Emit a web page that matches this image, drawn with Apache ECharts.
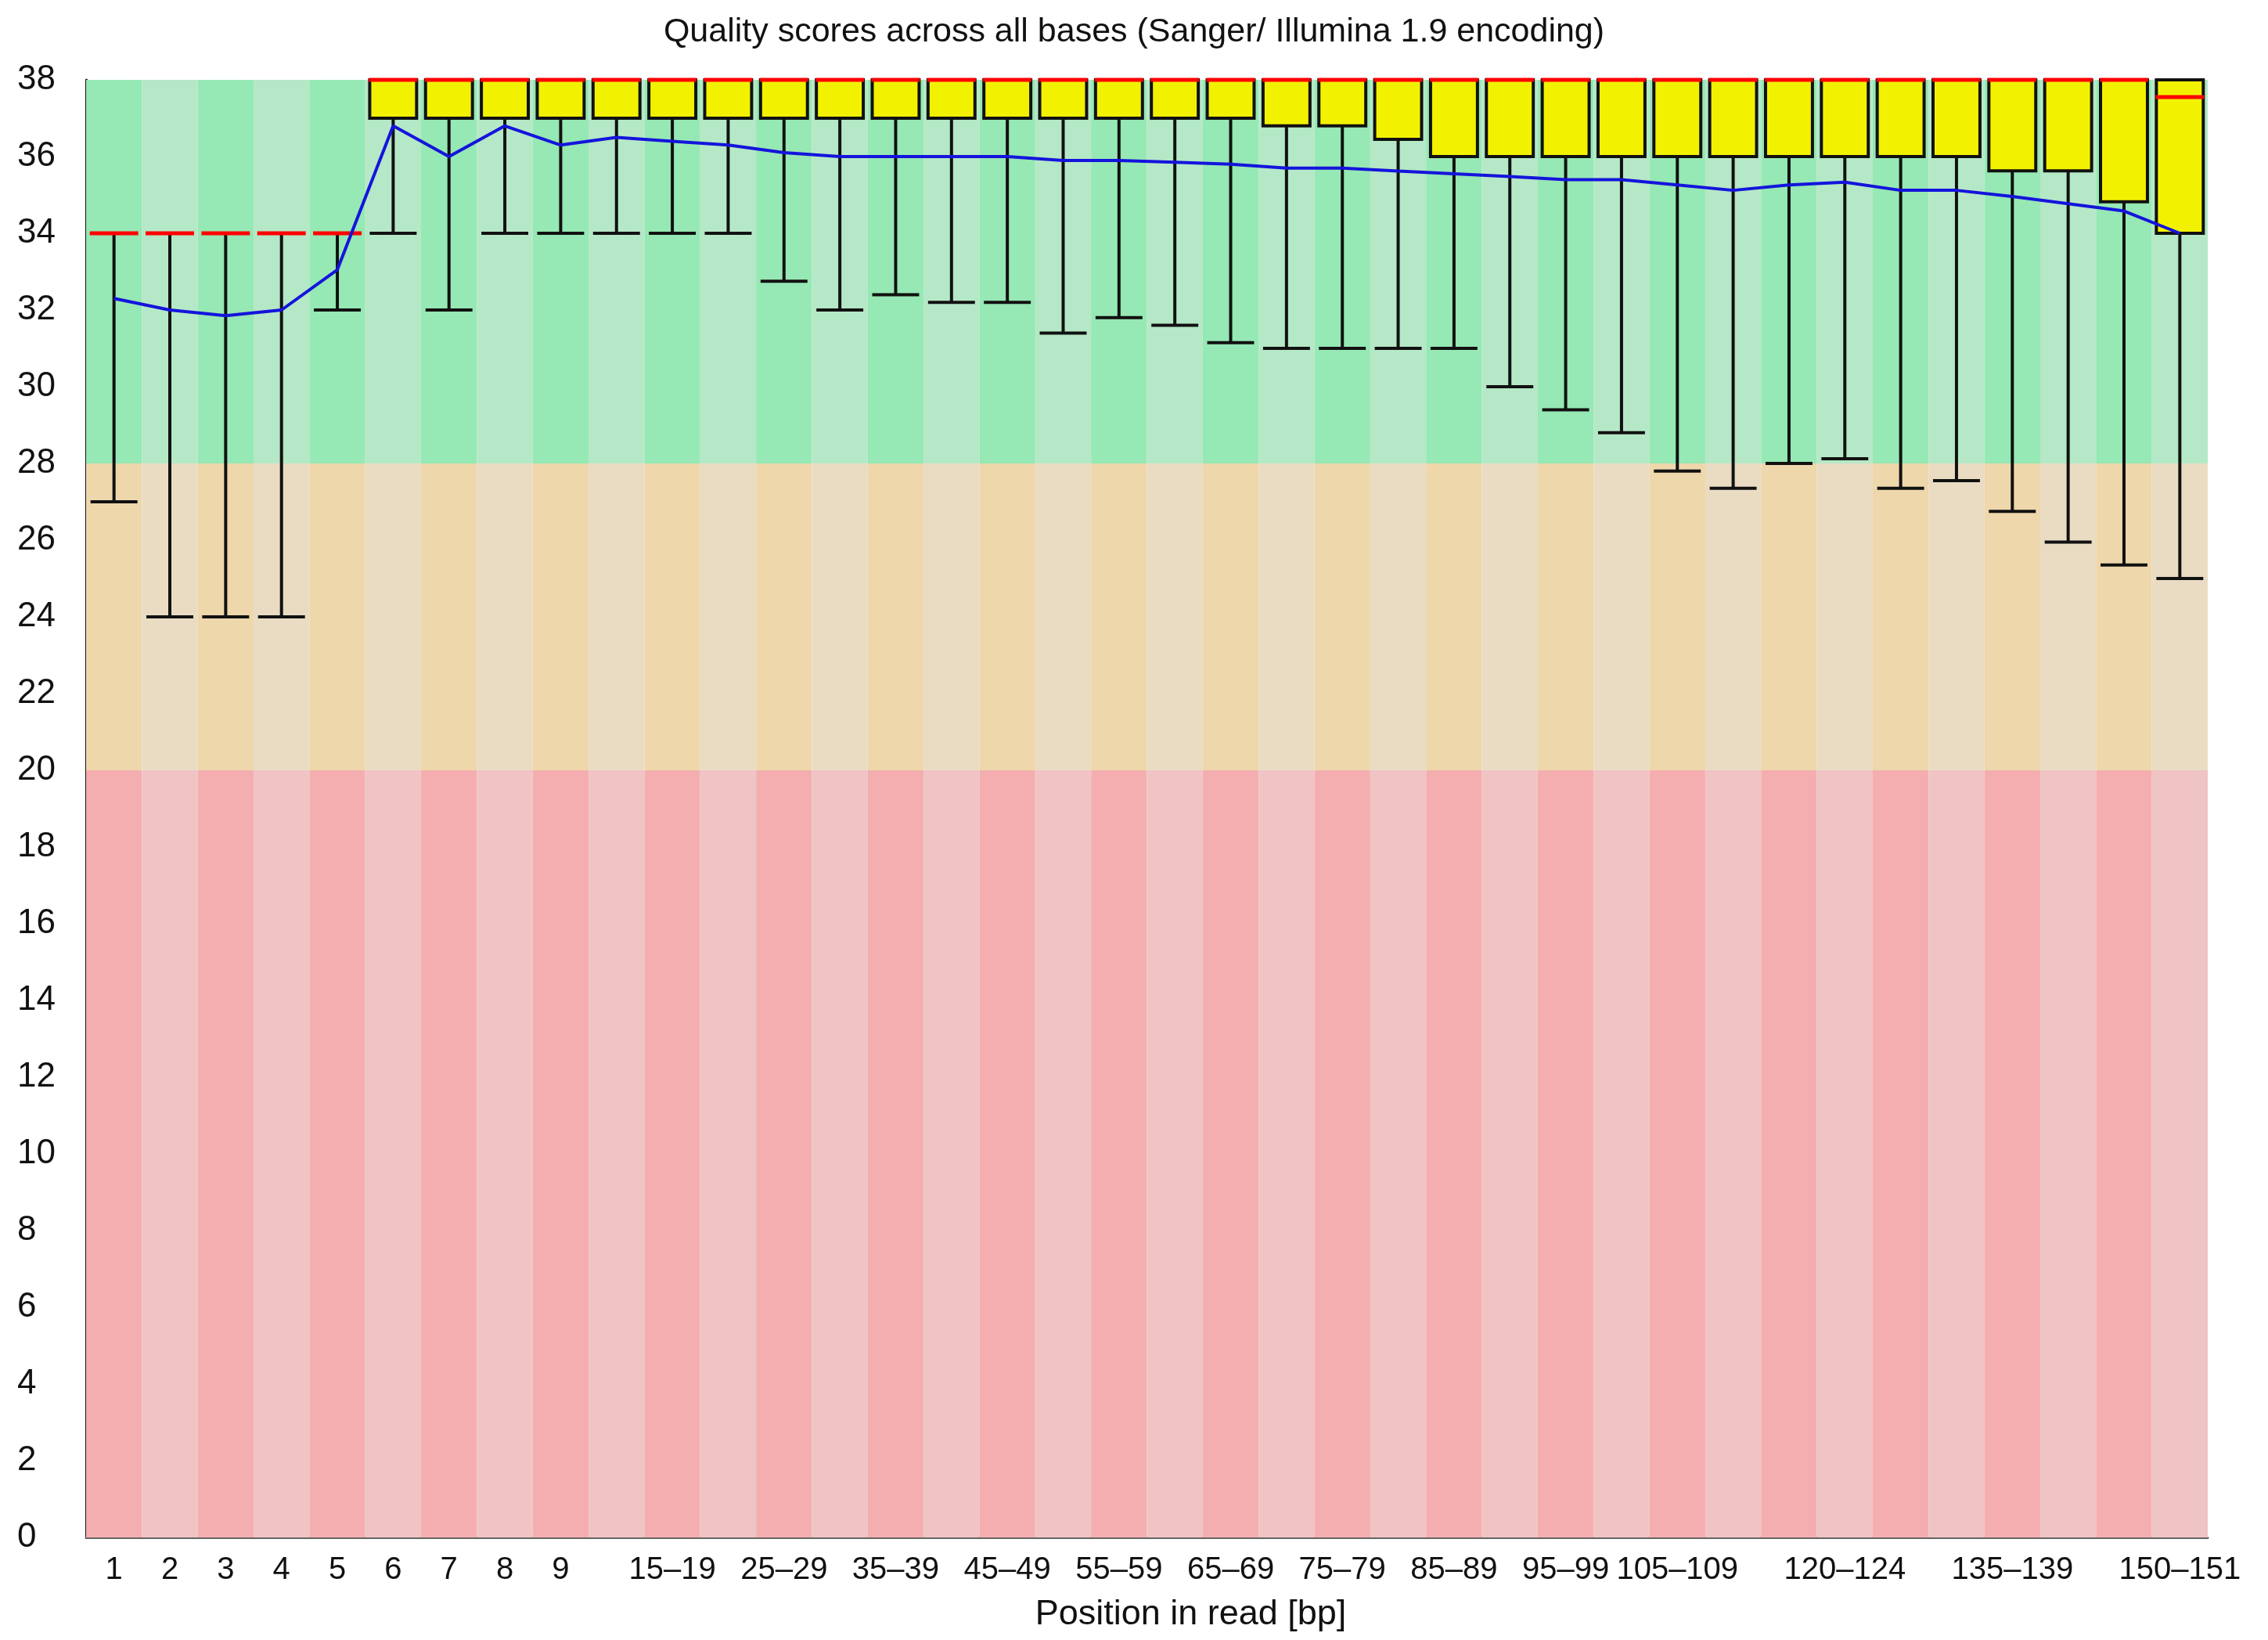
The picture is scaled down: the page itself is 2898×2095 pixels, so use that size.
<!DOCTYPE html>
<html>
<head>
    <meta charset="UTF-8">
    <title>Quality scores across all bases</title>
    <script src="https://cdn.jsdelivr.net/npm/echarts@6.0.0/dist/echarts.min.js"></script>
    <style>
        html, body { margin: 0; padding: 0; background: #ffffff; }
        #main { width: 2898px; height: 2095px; }
    </style>
</head>
<body>
    <div id="main"></div>
    <script type="text/javascript">
        // position bins along the read
        const categories = ['1', '2', '3', '4', '5', '6', '7', '8', '9',
            '10–14', '15–19', '20–24', '25–29', '30–34', '35–39', '40–44', '45–49',
            '50–54', '55–59', '60–64', '65–69', '70–74', '75–79', '80–84', '85–89',
            '90–94', '95–99', '100–104', '105–109', '110–114', '115–119', '120–124',
            '125–129', '130–134', '135–139', '140–144', '145–149', '150–151'];

        // 10th percentile (lower whisker)
        const whiskerLow = [27.0, 24.0, 24.0, 24.0, 32.0, 34.0, 32.0, 34.0, 34.0,
            34.0, 34.0, 34.0, 32.75, 32.0, 32.4, 32.2, 32.2,
            31.4, 31.8, 31.6, 31.15, 31.0, 31.0, 31.0, 31.0,
            30.0, 29.4, 28.8, 27.8, 27.35, 28.0, 28.12,
            27.35, 27.55, 26.75, 25.95, 25.35, 25.0];
        // lower quartile
        const boxLow = [34, 34, 34, 34, 34, 37, 37, 37, 37,
            37, 37, 37, 37, 37, 37, 37, 37,
            37, 37, 37, 37, 36.8, 36.8, 36.45, 36.0,
            36, 36, 36, 36, 36, 36, 36,
            36, 36, 35.63, 35.63, 34.82, 34.0];
        const median = [34, 34, 34, 34, 34, 38, 38, 38, 38,
            38, 38, 38, 38, 38, 38, 38, 38,
            38, 38, 38, 38, 38, 38, 38, 38,
            38, 38, 38, 38, 38, 38, 38,
            38, 38, 38, 38, 38, 37.55];
        // upper quartile
        const boxHigh = [34, 34, 34, 34, 34, 38, 38, 38, 38,
            38, 38, 38, 38, 38, 38, 38, 38,
            38, 38, 38, 38, 38, 38, 38, 38,
            38, 38, 38, 38, 38, 38, 38,
            38, 38, 38, 38, 38, 38];
        // 90th percentile (upper whisker)
        const whiskerHigh = [34, 34, 34, 34, 34, 38, 38, 38, 38,
            38, 38, 38, 38, 38, 38, 38, 38,
            38, 38, 38, 38, 38, 38, 38, 38,
            38, 38, 38, 38, 38, 38, 38,
            38, 38, 38, 38, 38, 38];
        const meanQuality = [32.3, 32.0, 31.85, 32.0, 33.05, 36.8, 36.0, 36.8, 36.3,
            36.5, 36.4, 36.3, 36.1, 36.0, 36.0, 36.0, 36.0,
            35.9, 35.9, 35.85, 35.8, 35.7, 35.7, 35.62, 35.55,
            35.48, 35.4, 35.4, 35.26, 35.12, 35.26, 35.33,
            35.12, 35.12, 34.96, 34.77, 34.58, 34.0];

        // background quality zones: poor / reasonable / good
        const zoneTops = [20, 28, 38];
        const zoneColors = [
            ['#f5aeb0', '#f0c4c4'],
            ['#eed7ab', '#e9dcc3'],
            ['#96e8b4', '#b5e8c6']
        ];
        // x labels that are actually printed
        const shownLabels = [0, 1, 2, 3, 4, 5, 6, 7, 8, 10, 12, 14, 16, 18, 20, 22, 24, 26, 28, 31, 34, 37];

        const fontFamily = '"Liberation Sans", Arial, sans-serif';
        var myChart = echarts.init(document.getElementById('main'), null, { renderer: 'canvas' });

        // stacked bars for the striped background
        var zoneSeries = zoneTops.map(function (top, z) {
            var bottom = z === 0 ? 0 : zoneTops[z - 1];
            return {
                type: 'bar',
                stack: 'zones',
                silent: true,
                barCategoryGap: '0%',
                z: 1,
                data: categories.map(function (c, i) {
                    return { value: top - bottom, itemStyle: { color: zoneColors[z][i % 2] } };
                })
            };
        });

        var boxData = categories.map(function (c, i) {
            return [i, whiskerLow[i], boxLow[i], median[i], boxHigh[i], whiskerHigh[i]];
        });

        function renderBox(params, api) {
            var x = api.value(0);
            var pLow = api.coord([x, api.value(1)]);
            var pQ1 = api.coord([x, api.value(2)]);
            var pMed = api.coord([x, api.value(3)]);
            var pQ3 = api.coord([x, api.value(4)]);
            var pHigh = api.coord([x, api.value(5)]);
            var bw = api.size([1, 0])[0] * 0.84;
            var half = bw / 2;
            var cx = pLow[0];
            var black = { stroke: '#111111', lineWidth: 4 };
            return {
                type: 'group',
                children: [
                    { type: 'line', shape: { x1: cx, y1: pLow[1], x2: cx, y2: pQ1[1] }, style: black },
                    { type: 'line', shape: { x1: cx, y1: pQ3[1], x2: cx, y2: pHigh[1] }, style: black },
                    { type: 'line', shape: { x1: cx - half, y1: pLow[1], x2: cx + half, y2: pLow[1] }, style: black },
                    { type: 'line', shape: { x1: cx - half, y1: pHigh[1], x2: cx + half, y2: pHigh[1] }, style: black },
                    {
                        type: 'rect',
                        shape: { x: cx - half, y: pQ3[1], width: bw, height: pQ1[1] - pQ3[1] },
                        style: { fill: '#f2f200', stroke: '#111111', lineWidth: 4 }
                    },
                    {
                        type: 'line',
                        shape: { x1: cx - half - 1, y1: pMed[1], x2: cx + half + 1, y2: pMed[1] },
                        style: { stroke: '#ff0000', lineWidth: 5 }
                    }
                ]
            };
        }

        var option = {
            backgroundColor: '#ffffff',
            animation: false,
            title: {
                text: 'Quality scores across all bases (Sanger/ Illumina 1.9 encoding)',
                left: 'center',
                top: 20,
                padding: [0, 0, 0, 32],
                textStyle: { fontFamily: fontFamily, fontSize: 43, fontWeight: 'normal', color: '#111111' }
            },
            grid: { left: 110, right: 77, top: 102, bottom: 131, containLabel: false },
            xAxis: {
                type: 'category',
                data: categories,
                boundaryGap: true,
                name: 'Position in read [bp]',
                nameLocation: 'middle',
                nameGap: 76,
                nameTextStyle: { fontFamily: fontFamily, fontSize: 45, color: '#111111', padding: [0, 0, 0, 112] },
                axisLine: { show: true, lineStyle: { color: '#666666', width: 3 } },
                axisTick: { show: false },
                splitLine: { show: false },
                axisLabel: {
                    margin: 22,
                    fontFamily: fontFamily,
                    fontSize: 40,
                    color: '#111111',
                    interval: function (index) { return shownLabels.indexOf(index) >= 0; }
                }
            },
            yAxis: {
                type: 'value',
                min: 0,
                max: 38,
                interval: 2,
                axisLine: { show: true, lineStyle: { color: '#111111', width: 3 } },
                axisTick: { show: false },
                splitLine: { show: false },
                axisLabel: {
                    align: 'left',
                    margin: 88,
                    padding: [10, 0, 0, 0],
                    fontFamily: fontFamily,
                    fontSize: 44,
                    color: '#111111'
                }
            },
            series: zoneSeries.concat([
                {
                    type: 'custom',
                    name: 'Quality distribution',
                    renderItem: renderBox,
                    encode: { x: 0, y: [1, 2, 3, 4, 5] },
                    data: boxData,
                    clip: false,
                    z: 3
                },
                {
                    type: 'line',
                    name: 'Mean quality',
                    data: meanQuality,
                    showSymbol: false,
                    symbol: 'none',
                    lineStyle: { color: '#1414dc', width: 4 },
                    z: 5
                }
            ])
        };

        myChart.setOption(option);
    </script>
</body>
</html>
